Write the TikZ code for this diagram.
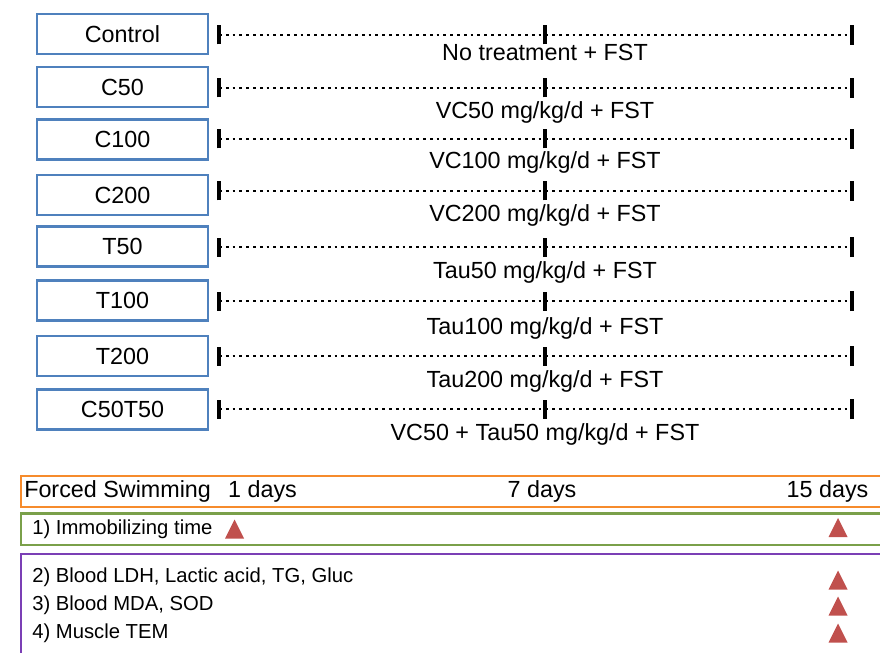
\documentclass[tikz,border=0pt]{standalone}
\usepackage{fontspec}
\setmainfont{Liberation Sans}
\definecolor{boxblue}{HTML}{4F81BD}
\definecolor{orng}{HTML}{F68B2C}
\definecolor{grn}{HTML}{7AA04A}
\definecolor{prpl}{HTML}{7B3FB5}
\definecolor{tri}{HTML}{C0504D}
\begin{document}
\begin{tikzpicture}[x=0.75pt,y=-0.75pt,
  group/.style={draw=boxblue,line width=2.2pt,minimum width=171*0.75pt,minimum height=40*0.75pt,inner sep=0pt,font=\fontsize{17.5}{21}\selectfont},
  timeline/.style={line width=2.1pt,dash pattern=on 2.1pt off 3pt},
  tick/.style={line width=2.4pt},
  lbl/.style={font=\fontsize{17.5}{21}\selectfont,inner sep=0pt},
  small/.style={font=\fontsize{15.2}{18}\selectfont,inner sep=0pt,anchor=west},
  marker/.pic={\fill[tri] (-9.5,9.5) -- (0,-9.5) -- (9.5,9.5) -- cycle;}
]
\clip (0,0) rectangle (880,652);
\useasboundingbox (0,0) rectangle (880,652);
% groups
\foreach \n/\t/\y/\ly/\lly/\txt in {
  g1/Control/34/35/52.5/{No treatment + FST},
  g2/C50/87/88/112/{VC50 mg/kg/d + FST},
  g3/C100/139.5/139/162/{VC100 mg/kg/d + FST},
  g4/C200/195/191/215/{VC200 mg/kg/d + FST},
  g5/T50/246.5/247/272/{Tau50 mg/kg/d + FST},
  g6/T100/300.5/301/328/{Tau100 mg/kg/d + FST},
  g7/T200/356/356/381/{Tau200 mg/kg/d + FST},
  g8/C50T50/409.5/409/434/{VC50 + Tau50 mg/kg/d + FST}}{
  \node[group] (\n) at (122.5,\y) {\t};
  \coordinate (\n-s) at (219,\ly);
  \coordinate (\n-m) at (545,\ly);
  \coordinate (\n-e) at (852,\ly);
  \draw[timeline] (\n-s) -- (\n-e);
  \draw[tick] ([yshift=-9.5*0.75pt]\n-s) -- ([yshift=9.5*0.75pt]\n-s);
  \draw[tick] ([yshift=-9.5*0.75pt]\n-m) -- ([yshift=9.5*0.75pt]\n-m);
  \draw[tick] ([yshift=-10*0.75pt]\n-e) -- ([yshift=10*0.75pt]\n-e);
  \node[lbl] (\n-l) at (545,\lly) {\txt};
}
% bottom panels
\draw[orng,line width=2.2pt] (21,476) rectangle (900,507);
\draw[grn,line width=2.2pt] (21,513.5) rectangle (900,545);
\draw[prpl,line width=2.2pt] (21,554) rectangle (900,680);
\node[lbl,anchor=west] (fs) at (24,491) {Forced Swimming};
\node[lbl] (d1) at (262.5,491) {1 days};
\node[lbl] (d7) at (542,491) {7 days};
\node[lbl] (d15) at (827.5,491) {15 days};
\node[small] (r1) at (32,529) {1) Immobilizing time};
\node[small] (r2) at (32,577) {2) Blood LDH, Lactic acid, TG, Gluc};
\node[small] (r3) at (32,605) {3) Blood MDA, SOD};
\node[small] (r4) at (32,633) {4) Muscle TEM};
\pic at (234.5,529) {marker};
\pic at (838,527.5) {marker};
\pic at (838,580) {marker};
\pic at (838,606) {marker};
\pic at (838,633) {marker};
\end{tikzpicture}
\end{document}
